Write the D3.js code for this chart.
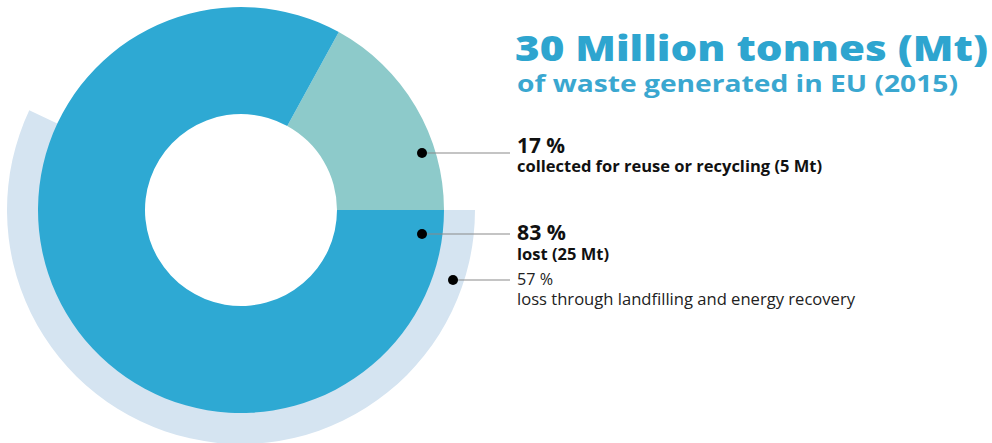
<!DOCTYPE html>
<html><head><meta charset="utf-8">
<script src="https://cdn.jsdelivr.net/npm/d3@7"></script>
<style>body{margin:0;background:#fff;}svg{display:block;font-family:"Open Sans",sans-serif;}</style>
</head><body>
<svg id="c" width="992" height="443"></svg>
<script>
const categories = ["collected for reuse or recycling (5 Mt)", "lost (25 Mt)"];
const shares = [17, 83];
const ringLabel = "loss through landfilling and energy recovery";
const ringShare = [57];
const titleLines = ["30 Million tonnes (Mt)", "of waste generated in EU (2015)"];

const svg = d3.select("#c");
const cx = 241, cy = 210;
const colors = ["#8dcaca", "#2ea9d3"];
const ringColor = "#d5e4f1";

const g = svg.append("g").attr("transform", `translate(${cx},${cy})`);

// angle scale: percent -> radians
const ang = d3.scaleLinear().domain([0, 100]).range([0, 2 * Math.PI]);
const start = Math.PI / 2 - ang(shares[0]);

// outer ring (57%) starting at 3 o'clock going clockwise
const ringArc = d3.arc().innerRadius(150).outerRadius(234);
g.append("path")
  .attr("d", ringArc({startAngle: Math.PI / 2, endAngle: Math.PI / 2 + ang(ringShare[0])}))
  .attr("fill", ringColor);

const pie = d3.pie().sort(null).value(d => d).startAngle(start).endAngle(start + 2 * Math.PI);
const arc = d3.arc().innerRadius(96).outerRadius(203);
g.selectAll("path.slice").data(pie(shares)).join("path")
  .attr("class", "slice")
  .attr("d", arc)
  .attr("fill", (d, i) => colors[i]);

// callouts
const callouts = [
  {dot: [422, 153], y: 153},
  {dot: [422, 234], y: 234},
  {dot: [453, 280], y: 280}
];
callouts.forEach(c => {
  svg.append("line").attr("x1", c.dot[0]).attr("x2", 510).attr("y1", c.y).attr("y2", c.y)
    .attr("stroke", "#8a8a8a").attr("stroke-width", 1.2);
  svg.append("circle").attr("cx", c.dot[0]).attr("cy", c.dot[1]).attr("r", 5).attr("fill", "#000");
});

const tx = 517;
function label(y, size, weight, fill, str, len) {
  const t = svg.append("text").attr("x", tx).attr("y", y).attr("font-size", size)
    .attr("font-weight", weight).attr("fill", fill).text(str);
  if (len) t.attr("textLength", len).attr("lengthAdjust", "spacingAndGlyphs");
  return t;
}
label(153, 21, 700, "#111", shares[0] + " %", 48);
label(172, 16, 700, "#111", categories[0], 305);
label(240, 21, 700, "#111", shares[1] + " %", 49);
label(260, 16, 700, "#111", categories[1], 92);
label(285, 16, 400, "#222", ringShare[0] + " %", 36);
label(305, 16, 400, "#222", ringLabel, 338);

svg.append("text").attr("x", 515).attr("y", 61).attr("font-size", 36).attr("font-weight", 800)
  .attr("fill", "#2ea5cf").attr("textLength", 473).attr("lengthAdjust", "spacingAndGlyphs").text(titleLines[0]);
svg.append("text").attr("x", 517).attr("y", 92).attr("font-size", 24).attr("font-weight", 700)
  .attr("fill", "#3aa7d0").attr("textLength", 441).attr("lengthAdjust", "spacingAndGlyphs").text(titleLines[1]);
</script>
</body></html>
